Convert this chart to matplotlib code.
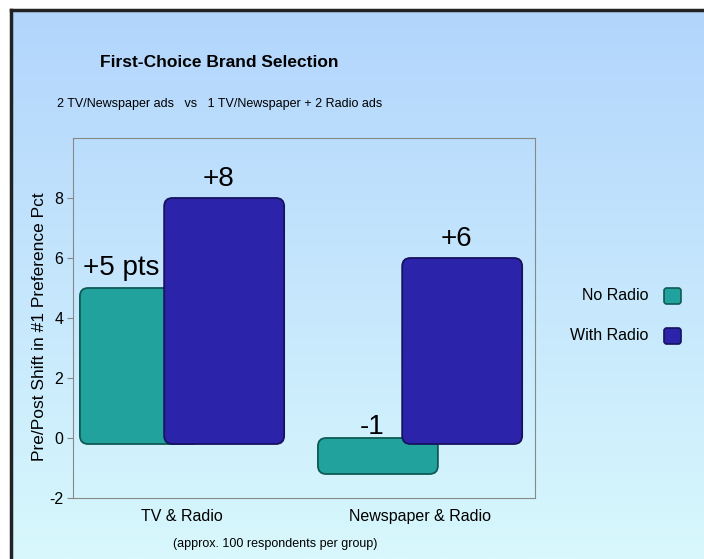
import numpy as np
import matplotlib
matplotlib.use("Agg")
import matplotlib.pyplot as plt
from matplotlib.colors import LinearSegmentedColormap
from matplotlib.patches import FancyBboxPatch

plt.rcParams['font.family'] = ['Liberation Sans', 'DejaVu Sans']
plt.rcParams['axes.unicode_minus'] = False

# datos
categorias = ['TV & Radio', 'Newspaper & Radio']
sin_radio = [5, -1]
con_radio = [8, 6]
etiquetas_sin = ['+5 pts', '-1']
etiquetas_con = ['+8', '+6']
series = ['No Radio', 'With Radio']
y_ticks = [-2, 0, 2, 4, 6, 8]

color_sin, borde_sin = '#22a29c', '#0f5a55'
color_con, borde_con = '#2b24ab', '#16125e'

W, H = 704, 559
fig = plt.figure(figsize=(W / 100, H / 100), dpi=100)
fig.patch.set_facecolor('white')

# fondo degradado (azul arriba, cian abajo)
bg = fig.add_axes([10 / W, 0, 1 - 10 / W, 1 - 10 / H])
grad = LinearSegmentedColormap.from_list('bg', ['#b2d5fc', '#d8f8fd'])
bg.imshow(np.linspace(0, 1, 256).reshape(-1, 1), aspect='auto', cmap=grad,
          extent=[0, 1, 0, 1], origin='upper')
bg.set_xlim(0, 1)
bg.set_ylim(0, 1)
bg.axis('off')
# borde oscuro izquierda y arriba
fig.add_artist(plt.Line2D([11 / W, 11 / W], [0, 1 - 10 / H], color='#222222', lw=2.5,
                          transform=fig.transFigure))
fig.add_artist(plt.Line2D([11 / W, 1], [1 - 10 / H, 1 - 10 / H], color='#222222', lw=2.5,
                          transform=fig.transFigure))

# ejes principales
x0, x1, y0, y1 = 73, 535, 138, 498
ax = fig.add_axes([x0 / W, 1 - y1 / H, (x1 - x0) / W, (y1 - y0) / H])
ax.patch.set_alpha(0)
ax.set_xlim(-0.458, 1.483)
ax.set_ylim(-2, 10)

x = np.arange(len(categorias))
off = 0.177
ancho = 0.504
prof = 0.2  # profundidad del efecto 3D
b1 = ax.bar(x - off, sin_radio, ancho, color=color_sin)
b2 = ax.bar(x + off, con_radio, ancho, color=color_con)

# barras con esquinas redondeadas (a partir de la geometria de ax.bar)
aspecto = (12 / 360) / (1.941 / 462)
for barras, col, ec, z in [(b1, color_sin, borde_sin, 2), (b2, color_con, borde_con, 3)]:
    for p in barras:
        bx, by, bw, bh = p.get_x(), p.get_y(), p.get_width(), p.get_height()
        bot = min(by, by + bh) - prof
        top = max(by, by + bh)
        p.set_visible(False)
        ax.add_patch(FancyBboxPatch((bx, bot), bw, top - bot,
                                    boxstyle='round,pad=0,rounding_size=0.035',
                                    mutation_aspect=aspecto, facecolor=col,
                                    edgecolor=ec, linewidth=1.3, zorder=z))

# etiquetas de valor
for i in range(len(categorias)):
    v = sin_radio[i]
    if v > 0:
        ax.text(x[i] - off - 0.08, v + 0.43, etiquetas_sin[i], ha='center', va='baseline',
                fontsize=20, zorder=4)
    else:
        ax.text(x[i] - off - 0.025, 0.13, etiquetas_sin[i], ha='center', va='baseline',
                fontsize=20, zorder=4)
    ax.text(x[i] + off - 0.025, con_radio[i] + 0.4, etiquetas_con[i],
            ha='center', va='baseline', fontsize=20, zorder=4)

ax.set_yticks(y_ticks)
ax.set_xticks(x)
ax.set_xticklabels(categorias, fontsize=11.5)
ax.tick_params(axis='y', labelsize=11.5, length=4, color='#888888', pad=3)
ax.tick_params(axis='x', length=0, pad=8)
for s in ax.spines.values():
    s.set_color('#888888')
ax.set_ylabel('Pre/Post Shift in #1 Preference Pct', fontsize=12.5)
ax.yaxis.set_label_coords(-0.056, 0.475)

# titulos
fig.text(219 / W, 1 - 62 / H, 'First-Choice Brand Selection', ha='center', va='center',
         fontsize=12.5, fontweight='bold')
fig.text(220 / W, 1 - 104 / H, '2 TV/Newspaper ads   vs   1 TV/Newspaper + 2 Radio ads',
         ha='center', va='center', fontsize=9)
fig.text(275 / W, 1 - 544 / H, '(approx. 100 respondents per group)', ha='center', va='center',
         fontsize=9)

# leyenda manual a la derecha
for nombre, col, ec, yy in [(series[0], color_sin, borde_sin, 296), (series[1], color_con, borde_con, 336)]:
    fig.text(648 / W, 1 - yy / H, nombre, ha='right', va='center', fontsize=11.5)
    fig.add_artist(FancyBboxPatch((664 / W, 1 - (yy + 8) / H), 17 / W, 16 / H,
                                  boxstyle='round,pad=0,rounding_size=0.004',
                                  mutation_aspect=W / H, facecolor=col,
                                  edgecolor=ec, lw=1.2, transform=fig.transFigure))

plt.savefig('out.png', dpi=100)
